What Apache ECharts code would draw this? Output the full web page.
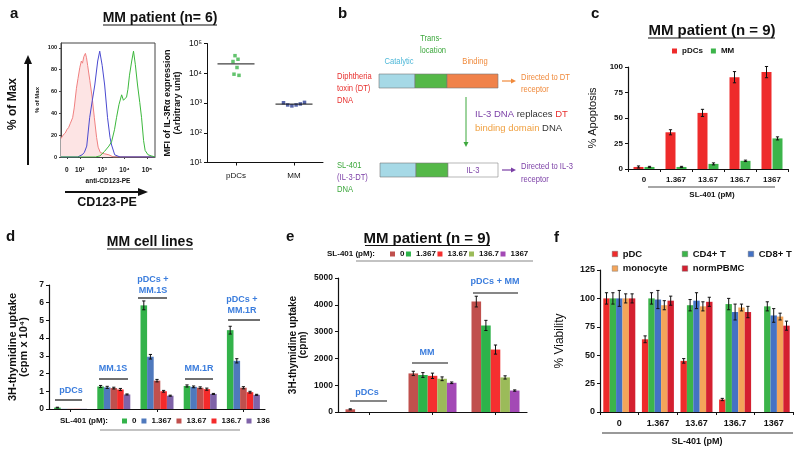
<!DOCTYPE html>
<html><head><meta charset="utf-8">
<script src="https://cdn.jsdelivr.net/npm/echarts@6/dist/echarts.min.js"></script>
<style>html,body{margin:0;padding:0;background:#fff}#c{width:800px;height:452px}</style>
</head><body><div id="c"></div>
<script>
// ================= DATA =================
// Panel a: flow histogram (x in decades: 2 = 10^2), y = % of max
const histTickValues = [1.42, 2, 3, 4, 5];
const histTickLabels = ['0', '10²', '10³', '10⁴', '10⁵'];
const histYTicks = [0, 20, 40, 60, 80, 100];
const histIsotype = [[1.16,17],[1.25,20],[1.35,22],[1.42,25],[1.5,27],[1.58,31],[1.68,36],[1.75,45],[1.85,63],[1.92,72],[2.0,82],[2.07,88],[2.12,86],[2.18,92],[2.25,95],[2.3,91],[2.35,84],[2.45,70],[2.55,55],[2.65,36],[2.75,18],[2.82,9],[2.92,4],[3.1,3],[3.3,2],[3.5,0],[5.36,0]];
const histMM = [[1.16,0],[1.9,0],[2.1,2],[2.2,4],[2.31,10],[2.44,36],[2.56,52],[2.67,66],[2.8,88],[2.89,97],[3.0,84],[3.11,66],[3.24,36],[3.35,18],[3.42,11],[3.56,2],[3.8,0],[5.36,0]];
const histPDC = [[1.16,0],[2.7,0],[2.9,1],[3.1,5],[3.3,10],[3.42,14],[3.55,25],[3.64,36],[3.75,48],[3.87,57],[3.95,52],[4.0,53],[4.09,55],[4.15,62],[4.22,75],[4.32,88],[4.4,97],[4.48,85],[4.58,66],[4.68,50],[4.76,36],[4.85,15],[4.92,6],[5.05,2],[5.2,1],[5.36,0]];
// Panel a: MFI scatter
const mfiCategories = ['pDCs', 'MM'];
const mfiPDC = [39000, 29500, 24800, 15600, 9300, 8500];
const mfiMM = [1020, 860, 800, 860, 930, 1050];
const mfiMeans = [20600, 920];
const mfiTicks = [10, 100, 1000, 10000, 100000];
const mfiTickLabels = ['10¹', '10²', '10³', '10⁴', '10⁵'];
// Panel c: % apoptosis
const doseLabels = ['0', '1.367', '13.67', '136.7', '1367'];
const cPDC = [2, 36, 55, 90, 95];
const cPDCErr = [1, 2.5, 3.5, 5.5, 5.5];
const cMM = [2, 2, 5, 8, 30];
const cMMErr = [0.6, 0.6, 1, 0.7, 1.5];
// Panel d: MM cell lines, 3H-thymidine (cpm x 10^4)
const dGroups = ['pDCs', 'MM.1S', 'pDCs + MM.1S', 'MM.1R', 'pDCs + MM.1R'];
const dDose0 = [0.08, 1.27, 5.85, 1.3, 4.45];
const dDose0Err = [0.02, 0.06, 0.25, 0.06, 0.22];
const dDose1 = [0.01, 1.22, 2.95, 1.25, 2.72];
const dDose1Err = [0, 0.06, 0.13, 0.05, 0.12];
const dDose2 = [0.01, 1.18, 1.6, 1.2, 1.2];
const dDose2Err = [0, 0.05, 0.07, 0.05, 0.06];
const dDose3 = [0.01, 1.1, 1.0, 1.12, 0.95];
const dDose3Err = [0, 0.06, 0.05, 0.06, 0.05];
const dDose4 = [0.01, 0.82, 0.75, 0.85, 0.8];
const dDose4Err = [0, 0.03, 0.03, 0.03, 0.03];
// Panel e: MM patient, 3H-thymidine (cpm)
const eGroups = ['pDCs', 'MM', 'pDCs + MM'];
const eDose0 = [100, 1440, 4120];
const eDose0Err = [20, 80, 200];
const eDose1 = [0, 1380, 3230];
const eDose1Err = [0, 90, 190];
const eDose2 = [0, 1350, 2330];
const eDose2Err = [0, 100, 170];
const eDose3 = [0, 1240, 1290];
const eDose3Err = [0, 70, 60];
const eDose4 = [0, 1090, 800];
const eDose4Err = [0, 30, 25];
// Panel f: % viability
const fPDC = [100, 64, 45, 11, 0];
const fPDCErr = [5, 3, 2, 1, 0];
const fCD4 = [100, 100, 94, 95, 93];
const fCD4Err = [5, 5, 5, 5, 4];
const fCD8 = [100, 99, 98, 88, 85];
const fCD8Err = [7, 8, 7, 7, 6];
const fMono = [100, 94, 93, 92, 84];
const fMonoErr = [4, 4, 4, 3, 3];
const fPBMC = [100, 98, 97, 88, 76];
const fPBMCErr = [4, 4, 4, 5, 4];

// ================= HELPERS =================
const FONT = 'Liberation Sans, Arial, sans-serif';
const INK = '#111';
const chart = echarts.init(document.getElementById('c'), null, {renderer: 'canvas'});

function T(x, y, text, size, color, weight, align, extra) {
  return Object.assign({type: 'text', x: x, y: y, silent: true, z: 10,
    style: {text: text, fontSize: size, fill: color || INK, fontWeight: weight || 'normal',
      fontFamily: FONT, align: align || 'left', verticalAlign: 'middle'}}, extra || {});
}
// narrow text for the diagram (panel b)
function TB(x, y, text, color, align) {
  return T(x, y, text, 9.5, color, 'normal', align, {scaleX: 0.8});
}
function L(x1, y1, x2, y2, color, w) {
  return {type: 'line', silent: true, z: 10, shape: {x1: x1, y1: y1, x2: x2, y2: y2},
    style: {stroke: color || INK, lineWidth: w || 1}};
}
function P(points, color) {
  return {type: 'polygon', silent: true, z: 10, shape: {points: points}, style: {fill: color || INK}};
}
function R(x, y, w, h, fill, stroke) {
  return {type: 'rect', silent: true, z: 10, shape: {x: x, y: y, width: w, height: h},
    style: {fill: fill, stroke: stroke || '#777', lineWidth: 0.6}};
}

function bar(name, data, color, idx, barW, gap) {
  return {type: 'bar', name: name, data: data, xAxisIndex: idx, yAxisIndex: idx,
    barWidth: barW, barGap: gap, itemStyle: {color: color}, silent: true, z: 2};
}
function err(vals, errs, idx, k, n, barW, gapPx) {
  return {type: 'custom', xAxisIndex: idx, yAxisIndex: idx, silent: true, z: 5,
    data: vals.map(function (v, i) { return [i, v, errs[i]]; }),
    renderItem: function (params, api) {
      const i = api.value(0), v = api.value(1), e = api.value(2);
      if (!e) return null;
      const off = (k - (n - 1) / 2) * (barW + gapPx);
      const x = api.coord([i, v])[0] + off;
      const y1 = api.coord([i, v + e])[1];
      const y2 = api.coord([i, Math.max(v - e, 0)])[1];
      const hw = 1.6;
      const st = {stroke: INK, lineWidth: 1};
      return {type: 'group', children: [
        {type: 'line', shape: {x1: x, y1: y1, x2: x, y2: y2}, style: st},
        {type: 'line', shape: {x1: x - hw, y1: y1, x2: x + hw, y2: y1}, style: st},
        {type: 'line', shape: {x1: x - hw, y1: y2, x2: x + hw, y2: y2}, style: st}
      ]};
    }};
}
function catAxis(idx, data, showLabels, alignTicks, fs) {
  return {gridIndex: idx, type: 'category', data: data,
    axisLine: {lineStyle: {color: INK, width: 1.2}},
    axisTick: {show: true, length: 3, alignWithLabel: alignTicks, lineStyle: {color: INK}},
    axisLabel: {show: showLabels, fontSize: fs || 8, fontWeight: 'bold', color: INK, margin: 7},
    splitLine: {show: false}};
}
function valAxis(idx, min, max, interval, name, gap, nameSize, nameWeight, labelSize) {
  return {gridIndex: idx, type: 'value', min: min, max: max, interval: interval,
    axisLine: {show: true, lineStyle: {color: INK, width: 1.2}},
    axisTick: {show: true, length: 3, lineStyle: {color: INK}},
    axisLabel: {fontSize: labelSize || 8, fontWeight: 'bold', color: INK, margin: 5,
      formatter: function (v) { return String(v); }},
    splitLine: {show: false},
    name: name, nameLocation: 'middle', nameRotate: 90, nameGap: gap,
    nameTextStyle: {fontSize: nameSize, fontWeight: nameWeight, color: INK, lineHeight: nameSize}};
}
const gridBase = {containLabel: false, outerBoundsMode: 'none'};
function G(l, t, w, h, extra) { return Object.assign({left: l, top: t, width: w, height: h}, gridBase, extra || {}); }

// series colors
const dColors = ['#33b34a', '#4f79bd', '#c0504d', '#f42a2a', '#7f63a8'];
const eColors = ['#c0504d', '#2db34a', '#f52f2f', '#9bbb59', '#a349b5'];
const fColors = ['#ee2b2b', '#3cb44a', '#4472c4', '#f4a55a', '#d42030'];
const dNames = doseLabels.map(function (d) { return 'd:' + d; });
const eNames = doseLabels.map(function (d) { return 'e:' + d; });
const fNames = ['pDC', 'CD4+ T', 'CD8+ T', 'monocyte', 'normPBMC'];
const dVals = [dDose0, dDose1, dDose2, dDose3, dDose4];
const dErrs = [dDose0Err, dDose1Err, dDose2Err, dDose3Err, dDose4Err];
const eVals = [eDose0, eDose1, eDose2, eDose3, eDose4];
const eErrs = [eDose0Err, eDose1Err, eDose2Err, eDose3Err, eDose4Err];
const fVals = [fPDC, fCD4, fCD8, fMono, fPBMC];
const fErrs = [fPDCErr, fCD4Err, fCD8Err, fMonoErr, fPBMCErr];

const series = [];
// panel a histogram
series.push({type: 'line', name: 'isotype', data: histIsotype, xAxisIndex: 0, yAxisIndex: 0, showSymbol: false,
  lineStyle: {color: '#f08080', width: 1}, areaStyle: {color: '#fde4e4', opacity: 1}, silent: true, z: 2});
series.push({type: 'line', name: 'hist MM', data: histMM, xAxisIndex: 0, yAxisIndex: 0, showSymbol: false,
  lineStyle: {color: '#4a4ad0', width: 1}, silent: true, z: 3});
series.push({type: 'line', name: 'hist pDCs', data: histPDC, xAxisIndex: 0, yAxisIndex: 0, showSymbol: false,
  lineStyle: {color: '#3cb83c', width: 1}, silent: true, z: 3});
// panel a scatter
series.push({type: 'scatter', name: 'MFI pDCs', xAxisIndex: 1, yAxisIndex: 1, silent: true, z: 4,
  symbol: 'rect', symbolSize: 3.5, itemStyle: {color: '#3cb44a'},
  data: mfiPDC.map(function (v, i) { return {value: [0, v], symbolOffset: [(i % 2 ? 1 : -1) * (1 + (i % 3)), 0]}; })});
series.push({type: 'scatter', name: 'MFI MM', xAxisIndex: 1, yAxisIndex: 1, silent: true, z: 4,
  symbol: 'rect', symbolSize: 3.5, itemStyle: {color: '#2c3e94'},
  data: mfiMM.map(function (v, i) { return {value: [1, v], symbolOffset: [(i - 2.5) * 4.2, 0]}; })});
series.push({type: 'scatter', name: 'MFI mean', xAxisIndex: 1, yAxisIndex: 1, silent: true, z: 5,
  symbol: 'rect', symbolSize: [37, 1.3], itemStyle: {color: INK},
  data: mfiMeans.map(function (v, i) { return [i, v]; })});
// panel c
series.push(bar('pDCs', cPDC, '#ee2b2b', 2, 10, '10%'));
series.push(bar('MM', cMM, '#3cb44a', 2, 10, '10%'));
series.push(err(cPDC, cPDCErr, 2, 0, 2, 10, 1));
series.push(err(cMM, cMMErr, 2, 1, 2, 10, 1));
// panel d
for (let k = 0; k < 5; k++) series.push(bar(dNames[k], dVals[k], dColors[k], 3, 6.6, 0));
for (let k = 0; k < 5; k++) series.push(err(dVals[k], dErrs[k], 3, k, 5, 6.6, 0));
// panel e
for (let k = 0; k < 5; k++) series.push(bar(eNames[k], eVals[k], eColors[k], 4, 9.6, 0));
for (let k = 0; k < 5; k++) series.push(err(eVals[k], eErrs[k], 4, k, 5, 9.6, 0));
// panel f
for (let k = 0; k < 5; k++) series.push(bar(fNames[k], fVals[k], fColors[k], 5, 6.4, 0));
for (let k = 0; k < 5; k++) series.push(err(fVals[k], fErrs[k], 5, k, 5, 6.4, 0));

function nearestLabel(v, vals, labels) {
  let best = 0;
  for (let i = 1; i < vals.length; i++) if (Math.abs(vals[i] - v) < Math.abs(vals[best] - v)) best = i;
  return labels[best];
}

const legendText = {fontSize: 8, fontWeight: 'bold', color: INK, fontFamily: FONT, lineHeight: 9};
const fLegendText = {fontSize: 9.5, fontWeight: 'bold', color: INK, fontFamily: FONT, lineHeight: 11};
function fLegend(names, left) {
  return {data: names, orient: 'vertical', left: left, top: 248.5, padding: 0, icon: 'rect',
    itemWidth: 5.5, itemHeight: 5.5, itemGap: 3.5, selectedMode: false, textStyle: fLegendText,
    itemStyle: {borderColor: '#666', borderWidth: 0.4}};
}
const option = {
  animation: false,
  backgroundColor: '#fff',
  textStyle: {fontFamily: FONT},
  grid: [
    G(61, 43, 94, 114, {show: true, borderColor: '#444', borderWidth: 1, backgroundColor: 'transparent'}),
    G(207, 43.5, 116, 119),
    G(628, 67, 160, 102),
    G(49, 285, 216, 124),
    G(338, 278, 189, 134),
    G(600, 270, 193, 142)
  ],
  xAxis: [
    {gridIndex: 0, type: 'value', min: 1.16, max: 5.36,
      axisLine: {show: true, onZero: false, lineStyle: {color: '#444', width: 1}},
      axisTick: {show: true, length: 2, customValues: histTickValues, lineStyle: {color: '#444'}},
      axisLabel: {customValues: histTickValues, fontSize: 6.5, fontWeight: 'bold', color: INK, margin: 10,
        formatter: function (v) { return nearestLabel(v, histTickValues, histTickLabels); }},
      splitLine: {show: false},
      name: 'anti-CD123-PE', nameLocation: 'middle', nameGap: 21,
      nameTextStyle: {fontSize: 6.5, fontWeight: 'bold', color: INK}},
    {gridIndex: 1, type: 'category', data: mfiCategories,
      axisLine: {lineStyle: {color: INK, width: 1}},
      axisTick: {show: true, alignWithLabel: true, length: 3, lineStyle: {color: INK}},
      axisLabel: {fontSize: 8, color: INK, margin: 9}, splitLine: {show: false}},
    catAxis(2, doseLabels, true, false, 8),
    catAxis(3, dGroups, false, true),
    catAxis(4, eGroups, false, true),
    catAxis(5, doseLabels, true, false, 9)
  ],
  yAxis: [
    {gridIndex: 0, type: 'value', min: 0, max: 104.5,
      axisLine: {show: true, lineStyle: {color: '#444', width: 1}},
      axisTick: {show: true, length: 2, customValues: histYTicks, lineStyle: {color: '#444'}},
      axisLabel: {customValues: histYTicks, fontSize: 5.5, fontWeight: 'bold', color: INK, margin: 4},
      splitLine: {show: false},
      name: '% of Max', nameLocation: 'middle', nameRotate: 90, nameGap: 21,
      nameTextStyle: {fontSize: 6, fontWeight: 'bold', color: INK}},
    {gridIndex: 1, type: 'log', logBase: 10, min: 10, max: 100000,
      axisLine: {show: true, lineStyle: {color: INK, width: 1}},
      axisTick: {show: true, length: 3, lineStyle: {color: INK}},
      axisLabel: {fontSize: 8.5, color: INK, margin: 5,
        formatter: function (v) { return nearestLabel(v, mfiTicks, mfiTickLabels); }},
      splitLine: {show: false},
      name: 'MFI of IL-3Rα expression\n(Arbitrary unit)', nameLocation: 'middle', nameRotate: 90, nameGap: 24,
      nameTextStyle: {fontSize: 9, fontWeight: 'bold', color: INK, lineHeight: 10}},
    valAxis(2, 0, 100, 25, '% Apoptosis', 30, 11, 'normal', 8),
    valAxis(3, 0, 7, 1, '3H-thymidine uptake\n(cpm x 10⁴)', 20, 11, 'bold', 8.5),
    valAxis(4, 0, 5000, 1000, '3H-thymidine uptake\n(cpm)', 30, 10, 'bold', 8.5),
    valAxis(5, 0, 125, 25, '% Viability', 34, 12, 'normal', 9)
  ],
  legend: [
    {data: ['pDCs', 'MM'], left: 672, top: 46.5, padding: 0, icon: 'rect', itemWidth: 5, itemHeight: 5, itemGap: 8,
      selectedMode: false, textStyle: legendText},
    {data: dNames.map(function (n, i) { return i === 4 ? {name: n, textStyle: {width: 16.5, overflow: 'truncate', ellipsis: ''}} : n; }),
      left: 122, top: 416.5, padding: 0, icon: 'rect', itemWidth: 5, itemHeight: 5, itemGap: 5, selectedMode: false,
      formatter: function (n) { return n.slice(2); }, textStyle: legendText},
    {data: eNames, left: 390, top: 249.5, padding: 0, icon: 'rect', itemWidth: 5, itemHeight: 5, itemGap: 1.5,
      selectedMode: false, formatter: function (n) { return n.slice(2); }, textStyle: legendText},
    fLegend(['pDC', 'monocyte'], 612),
    fLegend(['CD4+ T', 'normPBMC'], 682),
    fLegend(['CD8+ T'], 748)
  ],
  series: series,
  graphic: [
    // panel letters
    T(10, 14, 'a', 15, INK, 'bold'), T(338, 14, 'b', 15, INK, 'bold'), T(591, 14, 'c', 15, INK, 'bold'),
    T(6, 237, 'd', 15, INK, 'bold'), T(286, 237, 'e', 15, INK, 'bold'), T(554, 238, 'f', 15, INK, 'bold'),
    // titles with underline
    T(160, 18, 'MM patient (n= 6)', 14, INK, 'bold', 'center'), L(103, 25, 217, 25, INK, 1.2),
    T(712, 31, 'MM patient (n = 9)', 15, INK, 'bold', 'center'), L(648, 38, 775, 38, INK, 1.2),
    T(150, 242, 'MM cell lines', 14, INK, 'bold', 'center'), L(107, 249, 193, 249, INK, 1.2),
    T(427, 238.5, 'MM patient (n = 9)', 15, INK, 'bold', 'center'), L(365, 245.5, 490, 245.5, INK, 1.2),
    // panel a arrows and big labels
    T(13, 104, '% of Max', 12, INK, 'bold', 'center', {rotation: Math.PI / 2}),
    L(28, 165, 28, 62, INK, 2), P([[24, 64], [32, 64], [28, 55]]),
    L(65, 192, 140, 192, INK, 2), P([[138, 188], [138, 196], [148, 192]]),
    T(107, 203, 'CD123-PE', 12.5, INK, 'bold', 'center'),
    // panel b diagram
    TB(431, 38, 'Trans-', '#3da83d', 'center'),
    TB(433, 50, 'location', '#3da83d', 'center'),
    TB(399, 61, 'Catalytic', '#4fb8d8', 'center'),
    TB(475, 61, 'Binding', '#f08a3c', 'center'),
    R(379, 74, 36, 14, '#a6d9e6'), R(415, 74, 32, 14, '#55b848'), R(447, 74, 51, 14, '#f0824a'),
    TB(337, 76, 'Diphtheria', '#e8302e'), TB(337, 88, 'toxin (DT)', '#e8302e'), TB(337, 100, 'DNA', '#e8302e'),
    L(502, 81, 512, 81, '#f08a3c', 1.2), P([[511, 78.5], [511, 83.5], [516, 81]], '#f08a3c'),
    TB(521, 77, 'Directed to DT', '#f08a3c'), TB(521, 89, 'receptor', '#f08a3c'),
    L(466, 97, 466, 143, '#3da83d', 1), P([[463.5, 142], [468.5, 142], [466, 147]], '#3da83d'),
    {type: 'text', x: 475, y: 114, silent: true, z: 10, style: {text: '{p|IL-3 DNA} {k|replaces} {r|DT}',
      fontSize: 9.5, fontFamily: FONT, verticalAlign: 'middle',
      rich: {p: {fill: '#7b3fa6', fontSize: 9.5, fontFamily: FONT}, k: {fill: '#333', fontSize: 9.5, fontFamily: FONT}, r: {fill: '#e8302e', fontSize: 9.5, fontFamily: FONT}}}},
    {type: 'text', x: 475, y: 128, silent: true, z: 10, style: {text: '{o|binding domain} {k|DNA}',
      fontSize: 9.5, fontFamily: FONT, verticalAlign: 'middle',
      rich: {o: {fill: '#f0a040', fontSize: 9.5, fontFamily: FONT}, k: {fill: '#333', fontSize: 9.5, fontFamily: FONT}}}},
    R(380, 163, 36, 14, '#a6d9e6'), R(416, 163, 32, 14, '#55b848'), R(448, 163, 50, 14, '#fff', '#888'),
    TB(473, 170, 'IL-3', '#7b3fa6', 'center'),
    TB(337, 165, 'SL-401', '#3da83d'), TB(337, 177, '(IL-3-DT)', '#7b3fa6'), TB(337, 189, 'DNA', '#3da83d'),
    L(502, 170, 512, 170, '#7b3fa6', 1.2), P([[511, 167.5], [511, 172.5], [516, 170]], '#7b3fa6'),
    TB(521, 166, 'Directed to IL-3', '#7b3fa6'), TB(521, 179, 'receptor', '#7b3fa6'),
    // panel c footer
    L(648, 187, 775, 187, '#888', 1.5), T(712, 195, 'SL-401 (pM)', 8, INK, 'bold', 'center'),
    // panel d annotations
    T(71, 391, 'pDCs', 9, '#3b7ddd', 'bold', 'center'), L(55, 400, 82, 400, INK, 1.2),
    T(113, 369, 'MM.1S', 9, '#3b7ddd', 'bold', 'center'), L(99, 379, 128, 379, INK, 1.2),
    T(153, 280, 'pDCs +', 9, '#3b7ddd', 'bold', 'center'), T(153, 291, 'MM.1S', 9, '#3b7ddd', 'bold', 'center'), L(138, 298, 167, 298, INK, 1.2),
    T(199, 369, 'MM.1R', 9, '#3b7ddd', 'bold', 'center'), L(185, 379, 213, 379, INK, 1.2),
    T(242, 300, 'pDCs +', 9, '#3b7ddd', 'bold', 'center'), T(242, 311, 'MM.1R', 9, '#3b7ddd', 'bold', 'center'), L(228, 320, 260, 320, INK, 1.2),
    T(60, 421, 'SL-401 (pM):', 8, INK, 'bold'), L(100, 430, 240, 430, '#888', 1.2),
    // panel e annotations
    T(367, 393, 'pDCs', 9, '#3b7ddd', 'bold', 'center'), L(350, 401, 387, 401, INK, 1.2),
    T(427, 353, 'MM', 9, '#3b7ddd', 'bold', 'center'), L(412, 363, 448, 363, INK, 1.2),
    T(495, 282, 'pDCs + MM', 9, '#3b7ddd', 'bold', 'center'), L(473, 293, 518, 293, INK, 1.2),
    T(327, 254, 'SL-401 (pM):', 8, INK, 'bold'), L(356, 261, 533, 261, '#888', 1.2),
    // panel f footer
    L(602, 433, 793, 433, '#777', 1.5), T(697, 442, 'SL-401 (pM)', 9, INK, 'bold', 'center')
  ]
};
chart.setOption(option);
</script></body></html>
